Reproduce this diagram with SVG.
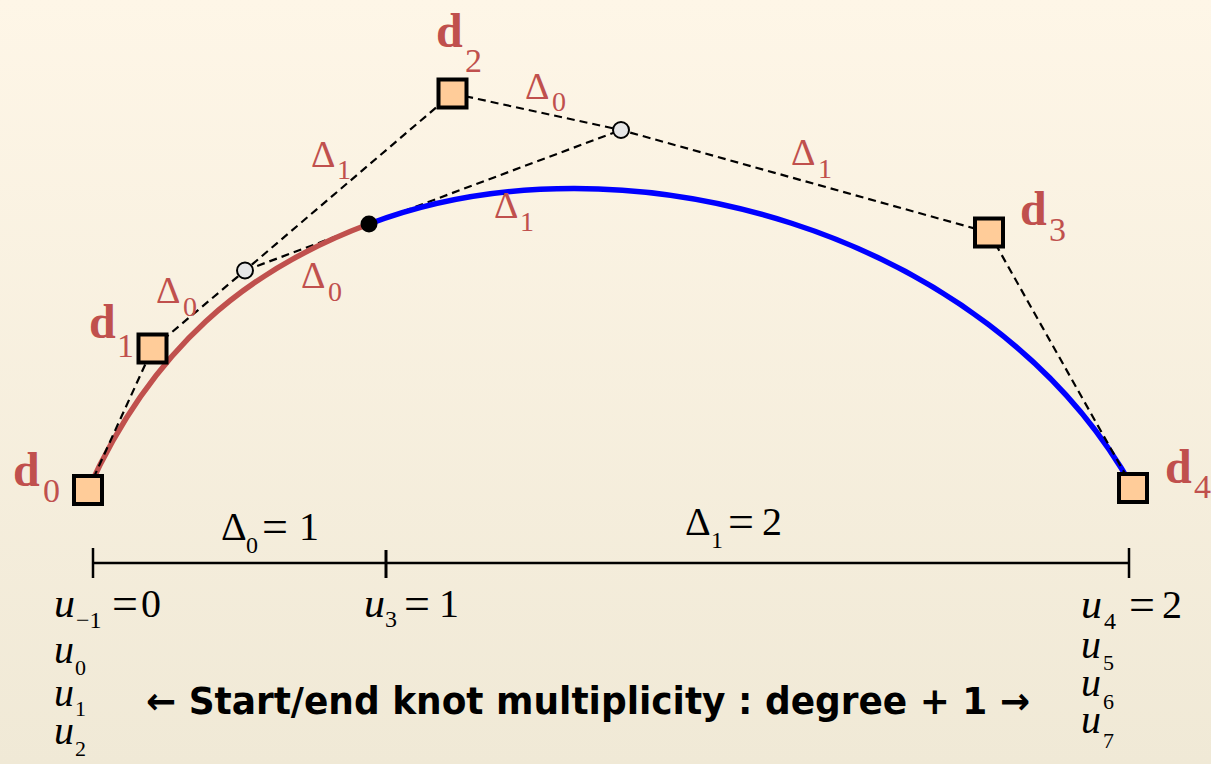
<svg xmlns="http://www.w3.org/2000/svg" width="1211" height="764" viewBox="0 0 1211 764">
<defs>
<linearGradient id="bg" x1="0" y1="0" x2="0" y2="1">
<stop offset="0" stop-color="#FEF6E7"/>
<stop offset="1" stop-color="#F0E9D6"/>
</linearGradient>
<style>
.dash{fill:none;stroke:#000;stroke-width:2.2;stroke-dasharray:8 5}
.cp{fill:#FFCC99;stroke:#000;stroke-width:4}
.knot{fill:#E6E6E6;stroke:#000;stroke-width:2}
.dlab{font-family:"Liberation Serif",serif;fill:#C0504D;font-size:48px;font-weight:bold}
.sub{font-weight:normal;font-size:34px}
.delta{font-family:"Liberation Serif",serif;fill:#C0504D;font-size:38px}
.dsub{font-size:28px}
.ax{font-family:"Liberation Serif",serif;fill:#000;font-size:40px}
.axsub{font-size:24px}
.ssub{font-size:22px}
.eq{font-size:46px}
.it{font-style:italic;font-size:42px}
.its{font-style:italic;font-size:40px}
.caption{font-family:"DejaVu Sans",sans-serif;font-weight:bold;font-size:37px;fill:#000}
</style>
</defs>
<rect width="1211" height="764" fill="url(#bg)"/>

<g id="hidden-connector">
<line class="dash" x1="245" y1="270.5" x2="621" y2="130"/>
</g>

<g id="curve">
<path d="M88,490 C152,348 245,270.5 369,224" fill="none" stroke="#C0504D" stroke-width="5.5"/>
<path d="M369,224 C621,128 989,230 1133,488" fill="none" stroke="#0000FF" stroke-width="5.5"/>
</g>

<g id="connectors">
<line class="dash" x1="88" y1="490" x2="152.5" y2="348.5"/>
<polyline class="dash" points="152.5,348.5 245,270.5 452.5,93.5"/>
<polyline class="dash" points="452.5,93.5 621,130 989,232.5"/>
<line class="dash" x1="989" y1="232.5" x2="1133" y2="488"/>
</g>

<g id="knot-points">
<circle class="knot" cx="245" cy="270.5" r="8"/>
<circle class="knot" cx="621" cy="130" r="8"/>
<circle cx="369" cy="224" r="8.5" fill="#000"/>
</g>

<g id="d0"><rect class="cp" x="74" y="476" width="28" height="28"/>
<text class="dlab" x="13" y="486">d<tspan class="sub" x="43" y="502">0</tspan></text></g>
<g id="d1"><rect class="cp" x="138.5" y="334.5" width="28" height="28"/>
<text class="dlab" x="89" y="338">d<tspan class="sub" x="117" y="357">1</tspan></text></g>
<g id="d2"><rect class="cp" x="438.5" y="79.5" width="28" height="28"/>
<text class="dlab" x="436" y="47">d<tspan class="sub" x="465" y="72">2</tspan></text></g>
<g id="d3"><rect class="cp" x="975" y="218.5" width="28" height="28"/>
<text class="dlab" x="1020" y="225">d<tspan class="sub" x="1049" y="241">3</tspan></text></g>
<g id="d4"><rect class="cp" x="1119" y="474" width="28" height="28"/>
<text class="dlab" x="1165" y="483">d<tspan class="sub" x="1194" y="498">4</tspan></text></g>

<g id="delta-labels">
<text class="delta" x="525" y="99">Δ<tspan class="dsub" x="552" y="111">0</tspan></text>
<text class="delta" x="311" y="167">Δ<tspan class="dsub" x="337" y="179">1</tspan></text>
<text class="delta" x="494" y="218">Δ<tspan class="dsub" x="520" y="231">1</tspan></text>
<text class="delta" x="301" y="288">Δ<tspan class="dsub" x="328" y="301">0</tspan></text>
<text class="delta" x="156" y="303">Δ<tspan class="dsub" x="183" y="316">0</tspan></text>
<text class="delta" x="791" y="165">Δ<tspan class="dsub" x="818" y="178">1</tspan></text>
</g>

<g id="axis">
<line x1="93" y1="563" x2="1129" y2="563" stroke="#000" stroke-width="2.5"/>
<line x1="93" y1="548" x2="93" y2="578" stroke="#000" stroke-width="2.5"/>
<line x1="386" y1="550" x2="386" y2="578" stroke="#000" stroke-width="3"/>
<line x1="1129" y1="548" x2="1129" y2="578" stroke="#000" stroke-width="2.5"/>
<text class="ax" x="221" y="540" font-size="36">Δ<tspan class="axsub" x="246" y="553">0</tspan><tspan class="eq" x="262" y="542">=</tspan><tspan x="299" y="540">1</tspan></text>
<text class="ax" x="685" y="535" font-size="36">Δ<tspan class="axsub" x="711" y="548">1</tspan><tspan class="eq" x="728" y="537">=</tspan><tspan x="762" y="535">2</tspan></text>
</g>

<g id="knots-left">
<text class="ax" x="54" y="617"><tspan class="it">u</tspan><tspan class="axsub" x="76" y="628">−1</tspan><tspan class="eq" x="112" y="619">=</tspan><tspan x="141" y="617">0</tspan></text>
<text class="ax" x="54" y="663"><tspan class="its">u</tspan><tspan class="ssub" x="75" y="675">0</tspan></text>
<text class="ax" x="54" y="706"><tspan class="its">u</tspan><tspan class="ssub" x="75" y="716">1</tspan></text>
<text class="ax" x="54" y="744"><tspan class="its">u</tspan><tspan class="ssub" x="75" y="756">2</tspan></text>
</g>
<g id="knots-mid">
<text class="ax" x="364" y="617"><tspan class="it">u</tspan><tspan class="axsub" x="385" y="627">3</tspan><tspan class="eq" x="404" y="619">=</tspan><tspan x="439" y="617">1</tspan></text>
</g>
<g id="knots-right">
<text class="ax" x="1081" y="618"><tspan class="it">u</tspan><tspan class="axsub" x="1104" y="629">4</tspan><tspan class="eq" x="1129" y="620">=</tspan><tspan x="1162" y="618">2</tspan></text>
<text class="ax" x="1081" y="658"><tspan class="its">u</tspan><tspan class="ssub" x="1103" y="670">5</tspan></text>
<text class="ax" x="1081" y="696"><tspan class="its">u</tspan><tspan class="ssub" x="1103" y="709">6</tspan></text>
<text class="ax" x="1081" y="733"><tspan class="its">u</tspan><tspan class="ssub" x="1103" y="748">7</tspan></text>
</g>

<g id="caption">
<text class="caption" x="146" y="714" textLength="884" lengthAdjust="spacingAndGlyphs">← Start/end knot multiplicity : degree + 1 →</text>
</g>
</svg>
